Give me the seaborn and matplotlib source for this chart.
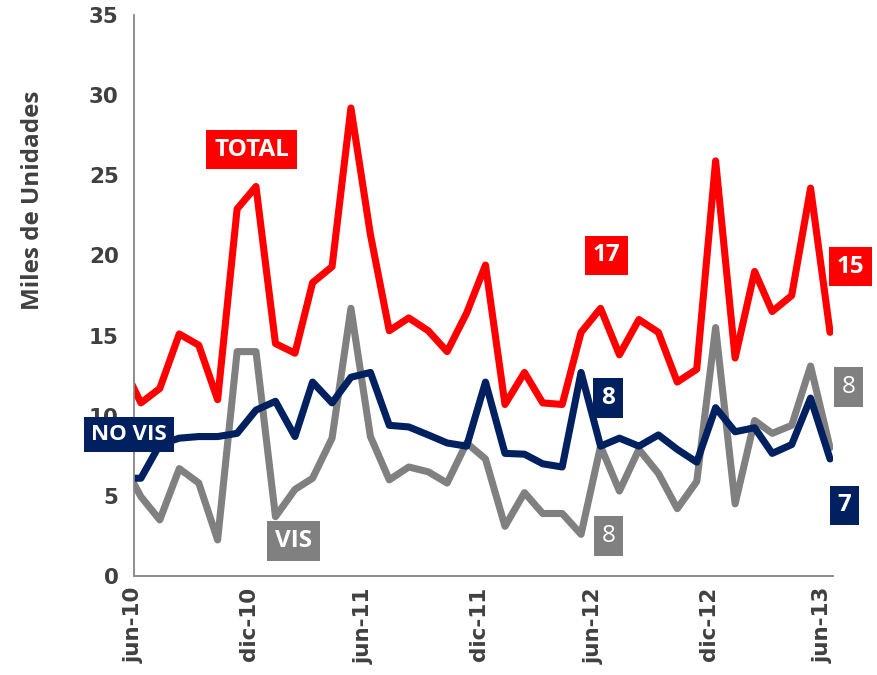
import numpy as np
import pandas as pd
import matplotlib
matplotlib.use("Agg")
import matplotlib.pyplot as plt
import matplotlib.dates as mdates
import seaborn as sns

# Monthly series, May 2010 - June 2013 (thousands of units)
months = pd.date_range("2010-05-01", "2013-06-01", freq="MS")

total = [13.3, 10.8, 11.7, 15.1, 14.4, 11.0, 22.9, 24.3, 14.5, 13.9, 18.3, 19.3,
         29.2, 21.3, 15.3, 16.1, 15.3, 14.0, 16.4, 19.4, 10.7, 12.7, 10.8, 10.7,
         15.2, 16.7, 13.8, 16.0, 15.2, 12.1, 12.9, 25.9, 13.6, 19.0, 16.5, 17.5,
         24.2, 15.2]
vis = [7.2, 4.95, 3.5, 6.7, 5.8, 2.25, 14.0, 14.0, 3.7, 5.4, 6.1, 8.6,
       16.7, 8.7, 6.0, 6.8, 6.5, 5.8, 8.3, 7.3, 3.1, 5.2, 3.9, 3.9,
       2.6, 8.1, 5.3, 7.9, 6.4, 4.2, 5.9, 15.5, 4.5, 9.7, 8.9, 9.4,
       13.1, 8.0]
no_vis = [6.1, 6.1, 8.2, 8.6, 8.7, 8.7, 8.9, 10.35, 10.9, 8.7, 12.1, 10.8,
          12.4, 12.7, 9.4, 9.3, 8.8, 8.3, 8.1, 12.1, 7.65, 7.6, 7.0, 6.8,
          12.7, 8.1, 8.6, 8.1, 8.8, 7.9, 7.1, 10.5, 9.0, 9.25, 7.65, 8.2,
          11.1, 7.3]

tick_dates = pd.date_range("2010-06-01", "2013-06-01", freq="6MS")
tick_labels = ["jun-10", "dic-10", "jun-11", "dic-11", "jun-12", "dic-12", "jun-13"]

RED = "#FF0000"
NAVY = "#002060"
GREY = "#808080"
AXIS = "#868686"
TEXT = "#404040"

sns.set_theme(style="white")
plt.rcParams["font.family"] = ["DejaVu Sans"]

# each monthly value is plotted a little into its month
dates = months + pd.Timedelta(days=11)

fig = plt.figure(figsize=(8.77, 6.75), dpi=100)
ax = fig.add_axes([134 / 877, 99 / 675, (833.2 - 134) / 877, 561 / 675])

line_kw = dict(linewidth=5.1, solid_capstyle="round", solid_joinstyle="round")
sns.lineplot(x=dates, y=total, color=RED, ax=ax, **line_kw)
sns.lineplot(x=dates, y=vis, color=GREY, ax=ax, **line_kw)
sns.lineplot(x=dates, y=no_vis, color=NAVY, ax=ax, **line_kw)

ax.set_xlim(mdates.date2num(pd.Timestamp("2010-06-01")),
            mdates.date2num(pd.Timestamp("2013-06-17")))
ax.set_ylim(0, 35)
ax.set_yticks(range(0, 36, 5))
ax.set_xticks(mdates.date2num(tick_dates))
ax.set_xticklabels(tick_labels, rotation=90)
ax.set_xlabel("")
ax.set_ylabel("")

for side in ("top", "right"):
    ax.spines[side].set_visible(False)
for side in ("left", "bottom"):
    ax.spines[side].set_color(AXIS)
    ax.spines[side].set_linewidth(1.3)

ax.tick_params(axis="both", which="major", direction="out", length=5, width=1.3,
               color=AXIS, labelcolor=TEXT, labelsize=15.5)
ax.tick_params(axis="y", pad=6)
ax.tick_params(axis="x", pad=3)
for lab in ax.get_xticklabels() + ax.get_yticklabels():
    lab.set_fontweight("bold")

fig.text(33 / 877, 1 - 200 / 675, "Miles de Unidades", rotation=90,
         ha="center", va="center", fontsize=17.5, fontweight="bold",
         family="Open Sans", color=TEXT)


def tag(date, y, text, fc, size=17.5, weight="bold"):
    ax.text(mdates.date2num(pd.Timestamp(date)), y, text, color="white",
            fontsize=size, fontweight=weight, family="Open Sans",
            ha="center", va="center", zorder=10, clip_on=False,
            bbox=dict(boxstyle="square,pad=0.32", fc=fc, ec="none"))


# series names
tag("2010-12-05", 26.6, "TOTAL", RED)
tag("2010-05-24", 8.85, "NO VIS", NAVY, size=16)
tag("2011-02-10", 2.2, "VIS", GREY)

# values for June 2012 and June 2013
j12 = list(months).index(pd.Timestamp("2012-06-01"))
tag("2012-06-22", 20.0, f"{total[j12]:.0f}", RED)
tag("2012-06-24", 11.1, f"{no_vis[j12]:.0f}", NAVY)
tag("2012-06-25", 2.5, f"{vis[j12]:.0f}", GREY, weight="normal")
tag("2013-07-15", 19.3, f"{total[-1]:.0f}", RED)
tag("2013-07-11", 11.8, f"{vis[-1]:.0f}", GREY, weight="normal")
tag("2013-07-05", 4.4, f"{no_vis[-1]:.0f}", NAVY)

fig.savefig("out.png", dpi=100)
